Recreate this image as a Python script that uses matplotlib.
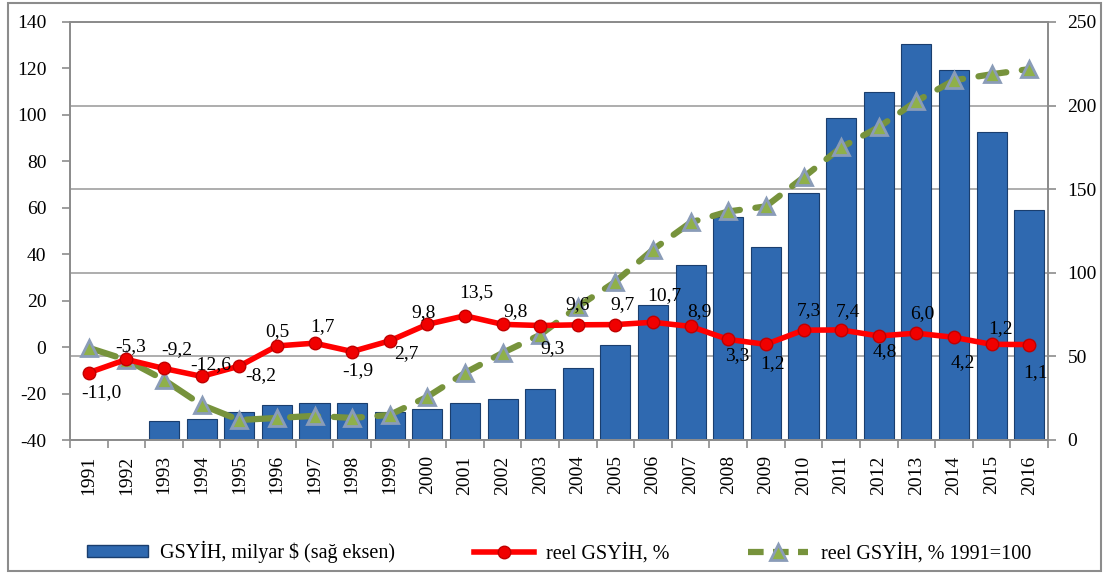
import numpy as np
import matplotlib
matplotlib.use("Agg")
import matplotlib.pyplot as plt
from matplotlib.patches import Patch, Rectangle
from matplotlib.lines import Line2D

plt.rcParams['font.family'] = ['Liberation Serif', 'DejaVu Serif']
plt.rcParams['axes.unicode_minus'] = False

years = [str(y) for y in range(1991, 2017)]
# GSYİH, milyar $ (right axis)
gdp_bn = [np.nan, np.nan, 11.4, 12.4, 16.6, 21.0, 22.2, 22.1, 16.9, 18.3,
          22.2, 24.6, 30.8, 43.2, 57.1, 81.0, 104.8, 133.4, 115.3, 148.0,
          192.6, 208.0, 236.6, 221.4, 184.4, 137.3]
# reel GSYİH, % (left axis)
real_growth = [-11.0, -5.3, -9.2, -12.6, -8.2, 0.5, 1.7, -1.9, 2.7, 9.8,
               13.5, 9.8, 9.3, 9.6, 9.7, 10.7, 8.9, 3.3, 1.2, 7.3,
               7.4, 4.8, 6.0, 4.2, 1.2, 1.1]
# reel GSYİH, % 1991=100 (as drawn against the left axis)
real_index = [-0.3, -5.5, -14.1, -24.9, -31.4, -30.5, -29.6, -30.5, -29.2, -21.4,
              -11.1, -2.5, 5.3, 17.4, 28.2, 42.0, 53.7, 58.4, 60.6, 73.1,
              86.0, 94.7, 105.9, 114.9, 117.5, 119.7]

# label offsets in pixels (dx, dy) for the red series
label_off = [(13, -20), (4, 13), (13, 19), (9, 12), (22, -9), (0, 14), (8, 17),
             (6, -19), (17, -13), (-4, 12), (11, 23), (13, 13), (12, -23),
             (0, 20), (7, 20), (11, 27), (9, 15), (9, -16), (7, -19), (5, 20),
             (7, 18), (6, -16), (6, 20), (9, -25), (9, 16), (6, -28)]

x = np.arange(len(years))
grey = '#8C8C8C'

fig = plt.figure(figsize=(11.05, 5.74), dpi=100)
ax = fig.add_axes([70 / 1105, 1 - 440 / 574, (1048 - 70) / 1105, (440 - 22) / 574])

# bars on the bar axis (scale shown on the right)
ax.bar(x, gdp_bn, width=0.8, color='#2F69B0', edgecolor='#1A3E6E', linewidth=0.8, zorder=2)
ax.set_ylim(0, 250)
ax.set_xlim(-0.5, len(years) - 0.5)
ax.grid(axis='y', color='#A0A0A0', linewidth=1.2, zorder=0)
ax.set_axisbelow(True)

ax.set_xticks(np.arange(-0.5, len(years), 1))
ax.set_xticklabels([])
ax.set_xticks(x, minor=True)
ax.set_xticklabels(years, minor=True, rotation=90, fontsize=14)
ax.tick_params(axis='x', which='major', length=6, color=grey, width=1.2)
ax.tick_params(axis='x', which='minor', length=0, pad=11)
for s in ax.spines.values():
    s.set_color(grey)
    s.set_linewidth(1.3)

# lines on the left axis
ax2 = ax.twinx()
ax.yaxis.tick_right()
ax.yaxis.set_label_position('right')
ax.set_yticks(range(0, 251, 50))
ax.tick_params(axis='y', length=6, color=grey, width=1.2, labelsize=14, pad=8)
ax2.yaxis.tick_left()
ax2.set_ylim(-40, 140)
ax2.set_yticks(range(-40, 141, 20))
ax2.tick_params(axis='y', length=6, color=grey, width=1.2, labelsize=14, pad=11)
for s in ax2.spines.values():
    s.set_color(grey)
    s.set_linewidth(1.3)

ax2.plot(x, real_index, color='#77933C', linewidth=4.5, linestyle=(0, (4.5, 2.5)),
         dash_capstyle='round', marker='^', markersize=11, markerfacecolor='#8FB04A',
         markeredgecolor='#8A9CB8', markeredgewidth=2, zorder=3)
ax2.plot(x, real_growth, color='#FF0000', linewidth=4, marker='o', markersize=9,
         markerfacecolor='#F00000', markeredgecolor='#C00000', markeredgewidth=1, zorder=4)

for xi, v, (dx, dy) in zip(x, real_growth, label_off):
    ax2.annotate(f"{v:.1f}".replace('.', ','), (xi, v), xytext=(dx, dy),
                 textcoords='offset pixels', ha='center', va='center', fontsize=14, zorder=5)

handles = [
    Patch(facecolor='#2F69B0', edgecolor='#1A3E6E'),
    Line2D([], [], color='#FF0000', linewidth=4, marker='o', markersize=9,
           markerfacecolor='#F00000', markeredgecolor='#C00000'),
    Line2D([], [], color='#77933C', linewidth=4.5, linestyle=(0, (2.5, 1.5)),
           marker='^', markersize=11, markerfacecolor='#8FB04A', markeredgecolor='#8A9CB8',
           markeredgewidth=2),
]
labels = ['GSYİH, milyar $ (sağ eksen)', 'reel GSYİH, %', 'reel GSYİH, % 1991=100']
fig.legend(handles, labels, loc='center', bbox_to_anchor=(0.506, 1 - 552 / 574), ncol=3,
           frameon=False, fontsize=14.5, handlelength=3.0, handleheight=0.5,
           handletextpad=0.6, columnspacing=3.9)

fig.patches.append(Rectangle((8 / 1105, 1 - 571 / 574), 1093 / 1105, 568 / 574,
                             transform=fig.transFigure, fill=False, edgecolor=grey,
                             linewidth=1.5))

fig.savefig('out.png', dpi=100)
